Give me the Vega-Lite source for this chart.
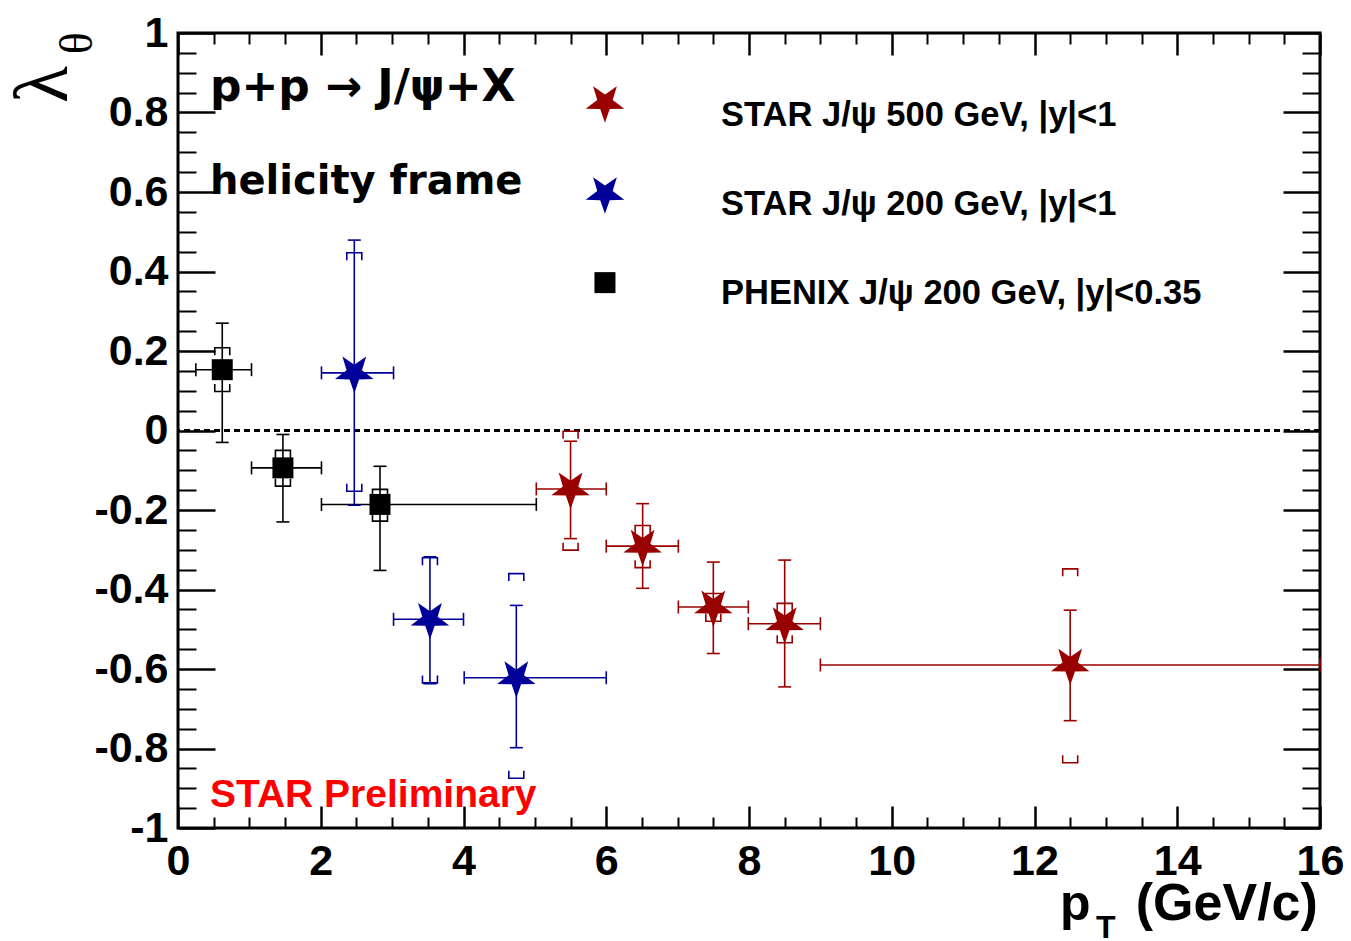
{
  "$schema": "https://vega.github.io/schema/vega-lite/v6.json",
  "width": 1142,
  "height": 795,
  "autosize": {"type": "none"},
  "padding": {"left": 178, "top": 33, "right": 31, "bottom": 113},
  "background": "white",
  "config": {
    "font": "Liberation Sans",
    "view": {"stroke": "black", "strokeWidth": 3},
    "axis": {"domain": false, "grid": false, "tickColor": "black", "labelColor": "black", "labelFont": "Liberation Sans", "labelFontWeight": "bold", "labelFontSize": 43, "labelOverlap": false, "labelFlush": false, "labelBound": false}
  },
  "datasets": {
    "pts": [
      {"series": "PHENIX J/ψ 200 GeV, |y|<0.35", "x": 0.62, "xlo": 0.25, "xhi": 1.03, "y": 0.153, "ylo": -0.03, "yhi": 0.27, "slo": 0.098, "shi": 0.208},
      {"series": "PHENIX J/ψ 200 GeV, |y|<0.35", "x": 1.47, "xlo": 1.03, "xhi": 2.01, "y": -0.094, "ylo": -0.23, "yhi": -0.01, "slo": -0.14, "shi": -0.05},
      {"series": "PHENIX J/ψ 200 GeV, |y|<0.35", "x": 2.83, "xlo": 2.01, "xhi": 5.02, "y": -0.186, "ylo": -0.352, "yhi": -0.09, "slo": -0.228, "shi": -0.148},
      {"series": "STAR J/ψ 200 GeV, |y|<1", "x": 2.47, "xlo": 2.01, "xhi": 3.02, "y": 0.145, "ylo": -0.188, "yhi": 0.479, "slo": -0.153, "shi": 0.447},
      {"series": "STAR J/ψ 200 GeV, |y|<1", "x": 3.53, "xlo": 3.02, "xhi": 4.0, "y": -0.475, "ylo": -0.637, "yhi": -0.318, "slo": -0.635, "shi": -0.32},
      {"series": "STAR J/ψ 200 GeV, |y|<1", "x": 4.74, "xlo": 4.01, "xhi": 6.0, "y": -0.622, "ylo": -0.798, "yhi": -0.44, "slo": -0.875, "shi": -0.36},
      {"series": "STAR J/ψ 500 GeV, |y|<1", "x": 5.5, "xlo": 5.02, "xhi": 6.0, "y": -0.147, "ylo": -0.272, "yhi": -0.027, "slo": -0.301, "shi": -0.002},
      {"series": "STAR J/ψ 500 GeV, |y|<1", "x": 6.51, "xlo": 6.0, "xhi": 7.01, "y": -0.291, "ylo": -0.397, "yhi": -0.184, "slo": -0.345, "shi": -0.239},
      {"series": "STAR J/ψ 500 GeV, |y|<1", "x": 7.5, "xlo": 7.01, "xhi": 7.99, "y": -0.444, "ylo": -0.561, "yhi": -0.331, "slo": -0.48, "shi": -0.41},
      {"series": "STAR J/ψ 500 GeV, |y|<1", "x": 8.5, "xlo": 7.99, "xhi": 9.0, "y": -0.486, "ylo": -0.645, "yhi": -0.326, "slo": -0.534, "shi": -0.435},
      {"series": "STAR J/ψ 500 GeV, |y|<1", "x": 12.5, "xlo": 9.0, "xhi": 16.0, "y": -0.59, "ylo": -0.73, "yhi": -0.452, "slo": -0.836, "shi": -0.348}
    ],
    "leg": [
      {"series": "STAR J/ψ 500 GeV, |y|<1", "lx": 5.982, "ly": 0.825, "tx": 7.608, "ty": 0.765},
      {"series": "STAR J/ψ 200 GeV, |y|<1", "lx": 5.982, "ly": 0.596, "tx": 7.608, "ty": 0.541},
      {"series": "PHENIX J/ψ 200 GeV, |y|<0.35", "lx": 5.982, "ly": 0.372, "tx": 7.608, "ty": 0.317}
    ]
  },
  "data": {"name": "pts"},
  "layer": [
    {
      "data": {"values": [{"z": 0}]},
      "mark": {"type": "rule", "strokeDash": [6, 4], "strokeWidth": 3, "color": "black"},
      "encoding": {"y": {"field": "z", "type": "quantitative", "scale": {"domain": [-1, 1], "nice": false, "zero": false}, "axis": null}}
    },
    {
      "mark": {"type": "rule", "strokeWidth": 1.6},
      "encoding": {
        "x": {"field": "x", "type": "quantitative", "scale": {"domain": [0, 16], "nice": false, "zero": false},
              "axis": {"orient": "bottom", "title": null, "values": [0, 2, 4, 6, 8, 10, 12, 14, 16], "tickSize": -22, "tickWidth": 2.5, "labelPadding": 34}},
        "y": {"field": "ylo", "type": "quantitative", "scale": {"domain": [-1, 1], "nice": false, "zero": false},
              "axis": {"orient": "left", "title": null, "values": [-1, -0.8, -0.6, -0.4, -0.2, 0, 0.2, 0.4, 0.6, 0.8, 1], "format": "~g", "tickSize": -37, "tickWidth": 2.5, "labelPadding": 47, "labelExpr": "replace(datum.label, '−', '-')"}},
        "y2": {"field": "yhi"},
        "stroke": {"field": "series", "type": "nominal", "scale": {"domain": ["STAR J/ψ 500 GeV, |y|<1", "STAR J/ψ 200 GeV, |y|<1", "PHENIX J/ψ 200 GeV, |y|<0.35"], "range": ["#990000", "#000099", "#000000"]}, "legend": null}
      }
    },
    {
      "mark": {"type": "rule", "strokeWidth": 1.6},
      "encoding": {
        "x": {"field": "xlo", "type": "quantitative", "scale": {"domain": [0, 16], "nice": false, "zero": false},
              "axis": {"orient": "bottom", "title": null, "values": [0.5, 1, 1.5, 2.5, 3, 3.5, 4.5, 5, 5.5, 6.5, 7, 7.5, 8.5, 9, 9.5, 10.5, 11, 11.5, 12.5, 13, 13.5, 14.5, 15, 15.5], "tickSize": -11, "tickWidth": 2, "labels": false}},
        "x2": {"field": "xhi"},
        "y": {"field": "y", "type": "quantitative", "scale": {"domain": [-1, 1], "nice": false, "zero": false},
              "axis": {"orient": "left", "title": null, "values": [-0.95, -0.9, -0.85, -0.75, -0.7, -0.65, -0.55, -0.5, -0.45, -0.35, -0.3, -0.25, -0.15, -0.1, -0.05, 0.05, 0.1, 0.15, 0.25, 0.3, 0.35, 0.45, 0.5, 0.55, 0.65, 0.7, 0.75, 0.85, 0.9, 0.95], "tickSize": -18, "tickWidth": 2, "labels": false}},
        "stroke": {"field": "series", "type": "nominal", "legend": null}
      }
    },
    {
      "mark": {"type": "tick", "orient": "horizontal", "size": 13, "thickness": 1.6, "opacity": 1},
      "encoding": {
        "x": {"field": "x", "type": "quantitative", "scale": {"domain": [0, 16], "nice": false, "zero": false},
              "axis": {"orient": "top", "title": null, "values": [0, 2, 4, 6, 8, 10, 12, 14, 16], "tickSize": -22, "tickWidth": 2.5, "labels": false}},
        "y": {"field": "ylo", "type": "quantitative", "scale": {"domain": [-1, 1], "nice": false, "zero": false},
              "axis": {"orient": "right", "title": null, "values": [-1, -0.8, -0.6, -0.4, -0.2, 0, 0.2, 0.4, 0.6, 0.8, 1], "tickSize": -37, "tickWidth": 2.5, "labels": false}},
        "fill": {"field": "series", "type": "nominal", "scale": {"domain": ["STAR J/ψ 500 GeV, |y|<1", "STAR J/ψ 200 GeV, |y|<1", "PHENIX J/ψ 200 GeV, |y|<0.35"], "range": ["#990000", "#000099", "#000000"]}, "legend": null}
      }
    },
    {
      "mark": {"type": "tick", "orient": "horizontal", "size": 13, "thickness": 1.6, "opacity": 1},
      "encoding": {
        "x": {"field": "x", "type": "quantitative", "scale": {"domain": [0, 16], "nice": false, "zero": false},
              "axis": {"orient": "top", "title": null, "values": [0.5, 1, 1.5, 2.5, 3, 3.5, 4.5, 5, 5.5, 6.5, 7, 7.5, 8.5, 9, 9.5, 10.5, 11, 11.5, 12.5, 13, 13.5, 14.5, 15, 15.5], "tickSize": -11, "tickWidth": 2, "labels": false}},
        "y": {"field": "yhi", "type": "quantitative", "scale": {"domain": [-1, 1], "nice": false, "zero": false},
              "axis": {"orient": "right", "title": null, "values": [-0.95, -0.9, -0.85, -0.75, -0.7, -0.65, -0.55, -0.5, -0.45, -0.35, -0.3, -0.25, -0.15, -0.1, -0.05, 0.05, 0.1, 0.15, 0.25, 0.3, 0.35, 0.45, 0.5, 0.55, 0.65, 0.7, 0.75, 0.85, 0.9, 0.95], "tickSize": -18, "tickWidth": 2, "labels": false}},
        "fill": {"field": "series", "type": "nominal", "legend": null}
      }
    },
    {
      "mark": {"type": "tick", "orient": "vertical", "size": 13, "thickness": 1.6, "opacity": 1},
      "encoding": {
        "x": {"field": "xlo", "type": "quantitative", "scale": {"domain": [0, 16], "nice": false, "zero": false}, "axis": null},
        "y": {"field": "y", "type": "quantitative", "scale": {"domain": [-1, 1], "nice": false, "zero": false}, "axis": null},
        "fill": {"field": "series", "type": "nominal", "legend": null}
      }
    },
    {
      "mark": {"type": "tick", "orient": "vertical", "size": 13, "thickness": 1.6, "opacity": 1},
      "encoding": {
        "x": {"field": "xhi", "type": "quantitative", "scale": {"domain": [0, 16], "nice": false, "zero": false}, "axis": null},
        "y": {"field": "y", "type": "quantitative", "scale": {"domain": [-1, 1], "nice": false, "zero": false}, "axis": null},
        "fill": {"field": "series", "type": "nominal", "legend": null}
      }
    },
    {
      "mark": {"type": "point", "shape": "M-1,1L-1,0L1,0L1,1", "size": 225, "filled": false, "strokeWidth": 1.6, "opacity": 1},
      "encoding": {
        "x": {"field": "x", "type": "quantitative", "scale": {"domain": [0, 16], "nice": false, "zero": false}, "axis": null},
        "y": {"field": "shi", "type": "quantitative", "scale": {"domain": [-1, 1], "nice": false, "zero": false}, "axis": null},
        "stroke": {"field": "series", "type": "nominal", "legend": null}
      }
    },
    {
      "mark": {"type": "point", "shape": "M-1,-1L-1,0L1,0L1,-1", "size": 225, "filled": false, "strokeWidth": 1.6, "opacity": 1},
      "encoding": {
        "x": {"field": "x", "type": "quantitative", "scale": {"domain": [0, 16], "nice": false, "zero": false}, "axis": null},
        "y": {"field": "slo", "type": "quantitative", "scale": {"domain": [-1, 1], "nice": false, "zero": false}, "axis": null},
        "stroke": {"field": "series", "type": "nominal", "legend": null}
      }
    },
    {
      "mark": {"type": "point", "filled": true, "opacity": 1, "size": 441, "strokeWidth": 0},
      "encoding": {
        "x": {"field": "x", "type": "quantitative", "scale": {"domain": [0, 16], "nice": false, "zero": false}, "axis": null},
        "y": {"field": "y", "type": "quantitative", "scale": {"domain": [-1, 1], "nice": false, "zero": false}, "axis": null},
        "color": {"field": "series", "type": "nominal",
                  "scale": {"domain": ["STAR J/ψ 500 GeV, |y|<1", "STAR J/ψ 200 GeV, |y|<1", "PHENIX J/ψ 200 GeV, |y|<0.35"], "range": ["#990000", "#000099", "#000000"]},
                  "legend": null},
        "shape": {"field": "series", "type": "nominal",
                  "scale": {"domain": ["STAR J/ψ 500 GeV, |y|<1", "STAR J/ψ 200 GeV, |y|<1", "PHENIX J/ψ 200 GeV, |y|<0.35"],
                            "range": ["M0,1.93L-0.453,0.623L-1.836,0.596L-0.732,-0.238L-1.134,-1.561L0,-0.77L1.134,-1.561L0.732,-0.238L1.836,0.596L0.453,0.623Z", "M0,1.93L-0.453,0.623L-1.836,0.596L-0.732,-0.238L-1.134,-1.561L0,-0.77L1.134,-1.561L0.732,-0.238L1.836,0.596L0.453,0.623Z", "square"]},
                  "legend": null}
      }
    },
    {
      "data": {"name": "leg"},
      "mark": {"type": "point", "filled": true, "opacity": 1, "size": 441, "strokeWidth": 0},
      "encoding": {
        "x": {"field": "lx", "type": "quantitative", "scale": {"domain": [0, 16], "nice": false, "zero": false}, "axis": null},
        "y": {"field": "ly", "type": "quantitative", "scale": {"domain": [-1, 1], "nice": false, "zero": false}, "axis": null},
        "color": {"field": "series", "type": "nominal", "legend": null},
        "shape": {"field": "series", "type": "nominal", "legend": null}
      }
    },
    {
      "data": {"name": "leg"},
      "mark": {"type": "text", "align": "left", "baseline": "alphabetic", "font": "Liberation Sans", "fontWeight": "bold", "fontSize": 34.5, "color": "black"},
      "encoding": {
        "x": {"field": "tx", "type": "quantitative", "scale": {"domain": [0, 16], "nice": false, "zero": false}, "axis": null},
        "y": {"field": "ty", "type": "quantitative", "scale": {"domain": [-1, 1], "nice": false, "zero": false}, "axis": null},
        "text": {"field": "series"}
      }
    },
    {
      "data": {"values": [{"x": 0.448, "y": 0.828, "t": "p+p → J/ψ+X", "s": 44}, {"x": 0.448, "y": 0.594, "t": "helicity frame", "s": 40}]},
      "mark": {"type": "text", "align": "left", "baseline": "alphabetic", "font": "DejaVu Sans", "fontWeight": "bold", "color": "black"},
      "encoding": {
        "x": {"field": "x", "type": "quantitative", "scale": {"domain": [0, 16], "nice": false, "zero": false}, "axis": null},
        "y": {"field": "y", "type": "quantitative", "scale": {"domain": [-1, 1], "nice": false, "zero": false}, "axis": null},
        "text": {"field": "t"},
        "size": {"field": "s", "type": "quantitative", "scale": null}
      }
    },
    {
      "data": {"values": [{"x": 0.448, "y": -0.946, "t": "STAR Preliminary"}]},
      "mark": {"type": "text", "align": "left", "baseline": "alphabetic", "font": "Liberation Sans", "fontWeight": "bold", "fontSize": 39, "color": "#ff0000"},
      "encoding": {
        "x": {"field": "x", "type": "quantitative", "scale": {"domain": [0, 16], "nice": false, "zero": false}, "axis": null},
        "y": {"field": "y", "type": "quantitative", "scale": {"domain": [-1, 1], "nice": false, "zero": false}, "axis": null},
        "text": {"field": "t"}
      }
    },
    {
      "data": {"values": [{"x": 15.97, "y": -1.231, "t": "(GeV/c)"}]},
      "mark": {"type": "text", "align": "right", "baseline": "alphabetic", "font": "Liberation Sans", "fontWeight": "bold", "fontSize": 52, "color": "black"},
      "encoding": {
        "x": {"field": "x", "type": "quantitative", "scale": {"domain": [0, 16], "nice": false, "zero": false}, "axis": null},
        "y": {"field": "y", "type": "quantitative", "scale": {"domain": [-1, 1], "nice": false, "zero": false}, "axis": null},
        "text": {"field": "t"}
      }
    },
    {
      "data": {"values": [{"x": 12.57, "y": -1.231, "t": "p"}]},
      "mark": {"type": "text", "align": "center", "baseline": "alphabetic", "font": "Liberation Sans", "fontWeight": "bold", "fontSize": 50, "color": "black"},
      "encoding": {
        "x": {"field": "x", "type": "quantitative", "scale": {"domain": [0, 16], "nice": false, "zero": false}, "axis": null},
        "y": {"field": "y", "type": "quantitative", "scale": {"domain": [-1, 1], "nice": false, "zero": false}, "axis": null},
        "text": {"field": "t"}
      }
    },
    {
      "data": {"values": [{"x": 13.0, "y": -1.2755, "t": "T"}]},
      "mark": {"type": "text", "align": "center", "baseline": "alphabetic", "font": "Liberation Sans", "fontWeight": "bold", "fontSize": 32, "color": "black"},
      "encoding": {
        "x": {"field": "x", "type": "quantitative", "scale": {"domain": [0, 16], "nice": false, "zero": false}, "axis": null},
        "y": {"field": "y", "type": "quantitative", "scale": {"domain": [-1, 1], "nice": false, "zero": false}, "axis": null},
        "text": {"field": "t"}
      }
    },
    {
      "data": {"values": [{"x": -1.877, "y": 0.87, "t": "λ", "s": 76}, {"x": -1.401, "y": 0.974, "t": "θ", "s": 46}]},
      "mark": {"type": "text", "align": "center", "baseline": "middle", "font": "Liberation Serif", "angle": 270, "color": "black"},
      "encoding": {
        "x": {"field": "x", "type": "quantitative", "scale": {"domain": [0, 16], "nice": false, "zero": false}, "axis": null},
        "y": {"field": "y", "type": "quantitative", "scale": {"domain": [-1, 1], "nice": false, "zero": false}, "axis": null},
        "text": {"field": "t"},
        "size": {"field": "s", "type": "quantitative", "scale": null}
      }
    }
  ],
  "resolve": {"axis": {"x": "independent", "y": "independent"}}
}
